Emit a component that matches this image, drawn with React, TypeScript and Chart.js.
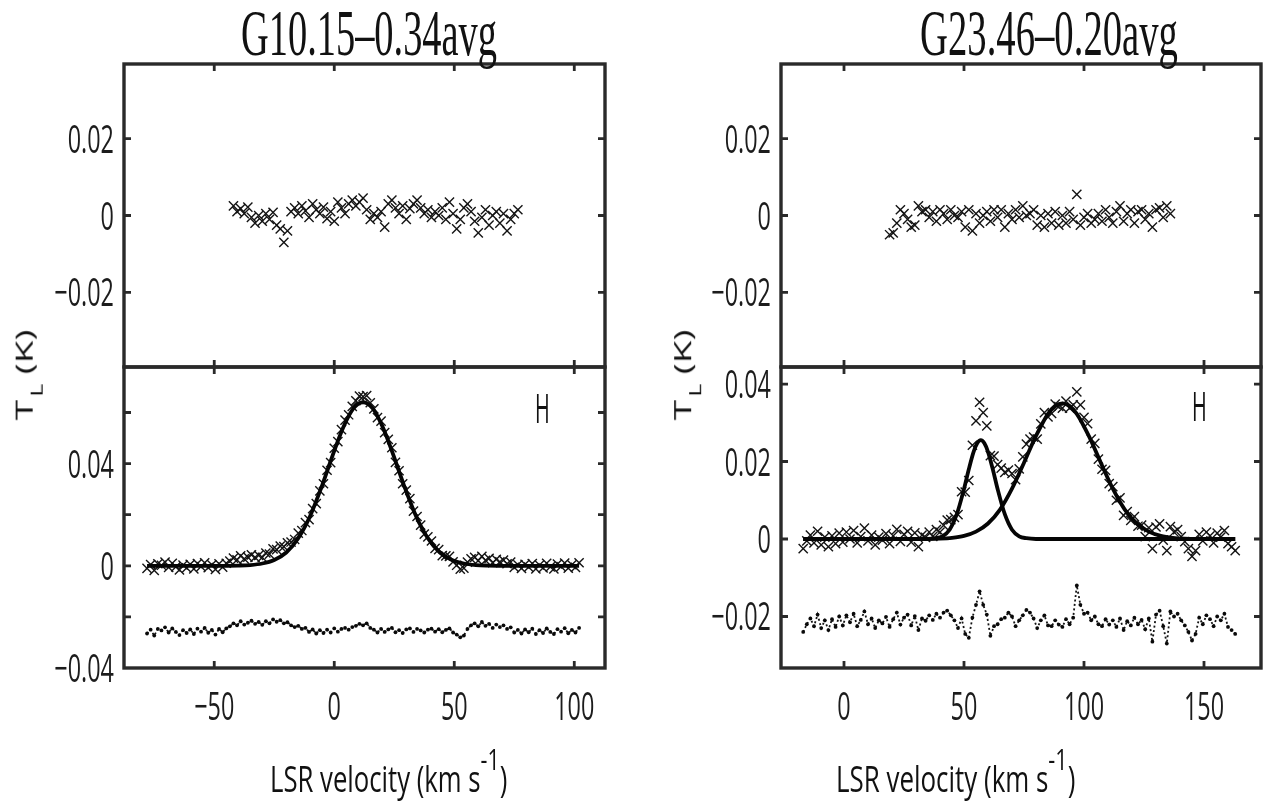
import React, { useEffect, useLayoutEffect, useRef } from 'react';
import { Chart, registerables } from 'chart.js';

Chart.register(...registerables);

const PAGE_W = 1267;
const PAGE_H = 803;

// ---------- velocity channels (km/s) ----------
const velL = [
  -78, -76.5, -75, -73.5, -72, -70.5, -69, -67.5, -66, -64.5,
  -63, -61.5, -60, -58.5, -57, -55.5, -54, -52.5, -51, -49.5,
  -48, -46.5, -45, -43.5, -42, -40.5, -39, -37.5, -36, -34.5,
  -33, -31.5, -30, -28.5, -27, -25.5, -24, -22.5, -21, -19.5,
  -18, -16.5, -15, -13.5, -12, -10.5, -9, -7.5, -6, -4.5,
  -3, -1.5, 0, 1.5, 3, 4.5, 6, 7.5, 9, 10.5,
  12, 13.5, 15, 16.5, 18, 19.5, 21, 22.5, 24, 25.5,
  27, 28.5, 30, 31.5, 33, 34.5, 36, 37.5, 39, 40.5,
  42, 43.5, 45, 46.5, 48, 49.5, 51, 52.5, 54, 55.5,
  57, 58.5, 60, 61.5, 63, 64.5, 66, 67.5, 69, 70.5,
  72, 73.5, 75, 76.5, 78, 79.5, 81, 82.5, 84, 85.5,
  87, 88.5, 90, 91.5, 93, 94.5, 96, 97.5, 99, 100.5,
  102,
];

const velR = [
  -17, -15.5, -14, -12.5, -11, -9.5, -8, -6.5, -5, -3.5,
  -2, -0.5, 1, 2.5, 4, 5.5, 7, 8.5, 10, 11.5,
  13, 14.5, 16, 17.5, 19, 20.5, 22, 23.5, 25, 26.5,
  28, 29.5, 31, 32.5, 34, 35.5, 37, 38.5, 40, 41.5,
  43, 44.5, 46, 47.5, 49, 50.5, 52, 53.5, 55, 56.5,
  58, 59.5, 61, 62.5, 64, 65.5, 67, 68.5, 70, 71.5,
  73, 74.5, 76, 77.5, 79, 80.5, 82, 83.5, 85, 86.5,
  88, 89.5, 91, 92.5, 94, 95.5, 97, 98.5, 100, 101.5,
  103, 104.5, 106, 107.5, 109, 110.5, 112, 113.5, 115, 116.5,
  118, 119.5, 121, 122.5, 124, 125.5, 127, 128.5, 130, 131.5,
  133, 134.5, 136, 137.5, 139, 140.5, 142, 143.5, 145, 146.5,
  148, 149.5, 151, 152.5, 154, 155.5, 157, 158.5, 160, 161.5,
  163,
];

// ---------- G10.15-0.34avg ----------
// upper panel: channels velL[24..103]
const topLeftValues = [
  0.0025, 0.0010, 0.0018, 0.0005, 0.0022, -0.0005, -0.0020, 0, -0.0015, 0.0005,
  -0.0010, 0.0008, -0.0025, -0.0035, -0.0070, -0.0040, 0.0010, 0.0020, 0.0005, 0.0025,
  0.0012, -0.0005, 0.0030, 0.0015, 0.0005, 0.0022, -0.0008, 0.0010, -0.0015, 0.0035,
  0.0020, 0.0005, 0.0030, 0.0040, 0.0025, 0.0035, 0.0045, 0.0015, -0.0010, 0.0005,
  -0.0005, 0.0010, -0.0030, 0.0030, 0.0040, 0.0020, 0.0005, 0.0025, -0.0010, 0.0018,
  0.0030, 0.0040, 0.0020, 0.0005, 0.0015, -0.0005, 0.0010, 0, 0.0020, -0.0010,
  0.0035, 0.0005, -0.0035, -0.0010, 0.0020, 0.0030, 0.0010, -0.0015, -0.0045, -0.0005,
  0.0015, -0.0025, 0, 0.0010, -0.0020, 0.0005, -0.0040, -0.0010, 0.0005, 0.0015,
];

const botLeftValues = [
  -0.0010, 0.0005, -0.0018, 0.0008, 0.0002, 0.0014, -0.0006, 0.0010, -0.0004, -0.0016,
  0.0003, -0.0008, 0.0006, -0.0012, 0.0009, -0.0003, 0.0012, -0.0007, 0.0004, -0.0014,
  0.0008, -0.0005, 0.0010, 0.0018, 0.0030, 0.0023, 0.0039, 0.0027, 0.0034, 0.0043,
  0.0033, 0.0041, 0.0033, 0.0050, 0.0046, 0.0066, 0.0063, 0.0077, 0.0075, 0.0090,
  0.0093, 0.0103, 0.0128, 0.0138, 0.0169, 0.0181, 0.0224, 0.0243, 0.0293, 0.0321,
  0.0374, 0.0404, 0.0460, 0.0486, 0.0533, 0.0570, 0.0591, 0.0624, 0.0646, 0.0664,
  0.0662, 0.0666, 0.0638, 0.0614, 0.0580, 0.0566, 0.0521, 0.0495, 0.0462, 0.0405,
  0.0372, 0.0321, 0.0296, 0.0263, 0.0214, 0.0193, 0.0159, 0.0124, 0.0113, 0.0097,
  0.0068, 0.0063, 0.0040, 0.0039, 0.0037, 0.0015, 0.0002, -0.0013, -0.0009, 0.0014,
  0.0027, 0.0033, 0.0020, 0.0037, 0.0021, 0.0029, 0.0012, 0.0025, 0.0015, 0.0022,
  0.0008, 0.0014, -0.0006, 0.0004, -0.0010, 0.0006, -0.0005, 0.0009, -0.0012, 0.0003,
  -0.0008, 0.0010, -0.0004, -0.0012, 0.0007, -0.0003, 0.0011, -0.0009, 0.0004, -0.0006,
  0.0012,
];

const botLeftResidual = [
  -0.0265, -0.0250, -0.0273, -0.0247, -0.0253, -0.0241, -0.0261, -0.0245, -0.0259, -0.0271,
  -0.0252, -0.0263, -0.0249, -0.0267, -0.0246, -0.0258, -0.0243, -0.0262, -0.0251, -0.0269,
  -0.0247, -0.0260, -0.0245, -0.0237, -0.0225, -0.0233, -0.0217, -0.0230, -0.0223, -0.0215,
  -0.0227, -0.0220, -0.0231, -0.0217, -0.0225, -0.0210, -0.0219, -0.0213, -0.0225, -0.0221,
  -0.0233, -0.0240, -0.0235, -0.0247, -0.0243, -0.0259, -0.0249, -0.0265, -0.0252, -0.0263,
  -0.0250, -0.0261, -0.0245, -0.0258, -0.0247, -0.0243, -0.0250, -0.0240, -0.0235, -0.0227,
  -0.0233, -0.0225, -0.0243, -0.0250, -0.0261, -0.0247, -0.0259, -0.0249, -0.0243, -0.0260,
  -0.0252, -0.0263, -0.0249, -0.0245, -0.0259, -0.0247, -0.0253, -0.0261, -0.0250, -0.0246,
  -0.0258, -0.0248, -0.0260, -0.0251, -0.0245, -0.0261, -0.0269, -0.0280, -0.0273, -0.0247,
  -0.0233, -0.0225, -0.0237, -0.0220, -0.0235, -0.0227, -0.0243, -0.0230, -0.0240, -0.0233,
  -0.0247, -0.0241, -0.0261, -0.0251, -0.0265, -0.0249, -0.0260, -0.0246, -0.0267, -0.0252,
  -0.0263, -0.0245, -0.0259, -0.0267, -0.0248, -0.0258, -0.0244, -0.0264, -0.0251, -0.0261,
  -0.0243,
];

const fitLeftVel = [-78, -50, -40, -35, -30, -25, -20, -15, -10, -5, 0, 4, 8, 12, 16, 20, 24, 29, 34, 39, 44, 49, 54, 59, 64, 74, 102];
const fitLeftValues = [0, 0, 0.0001, 0.0003, 0.0009, 0.0023, 0.0052, 0.0108, 0.0196, 0.0316, 0.0450, 0.0547, 0.0616, 0.0640, 0.0616, 0.0547, 0.0450, 0.0316, 0.0196, 0.0108, 0.0052, 0.0023, 0.0009, 0.0003, 0.0001, 0, 0];

// ---------- G23.46-0.20avg ----------
// upper panel: channels velR[24..102]
const topRightValues = [
  -0.0050, -0.0045, -0.0020, 0.0015, 0.0005, -0.0010, -0.0030, -0.0025, 0.0025, 0.0010,
  0.0015, -0.0005, 0.0010, -0.0015, 0.0015, 0.0005, -0.0010, 0.0015, 0, -0.0005,
  0.0010, -0.0030, 0.0015, -0.0040, 0.0005, -0.0020, 0, 0.0010, -0.0015, 0.0015,
  -0.0005, 0.0015, -0.0030, 0.0005, -0.0010, 0.0015, -0.0005, 0.0025, 0, 0.0005,
  0.0015, -0.0025, 0, -0.0030, 0.0005, -0.0020, 0.0010, -0.0025, 0, -0.0020,
  0.0010, -0.0010, 0.0055, -0.0025, -0.0005, 0.0005, -0.0020, -0.0010, 0.0005, -0.0015,
  0.0015, -0.0005, -0.0020, 0.0010, 0.0025, -0.0015, 0.0005, 0.0015, -0.0020, 0.0010,
  0.0015, -0.0010, 0.0005, -0.0030, 0.0015, 0.0020, -0.0005, 0.0025, 0.0005,
];

const botRightValues = [
  -0.0025, -0.0005, 0.0010, -0.0010, 0.0020, -0.0015, 0.0005, -0.0020, 0.0008, -0.0012,
  0.0015, -0.0008, 0.0018, 0, 0.0022, -0.0010, 0.0006, 0.0028, -0.0005, 0.0010,
  -0.0015, 0.0005, -0.0003, 0.0014, -0.0012, 0.0008, 0.0025, -0.0006, 0.0012, 0.0020,
  -0.0008, 0.0016, -0.0020, 0.0010, 0.0004, 0.0018, 0.0007, 0.0024, 0.0018, 0.0035,
  0.0049, 0.0050, 0.0056, 0.0063, 0.0122, 0.0121, 0.0151, 0.0242, 0.0305, 0.0353,
  0.0326, 0.0292, 0.0215, 0.0214, 0.0192, 0.0183, 0.0172, 0.0178, 0.0169, 0.0153,
  0.0181, 0.0212, 0.0245, 0.0258, 0.0263, 0.0258, 0.0297, 0.0326, 0.0315, 0.0324,
  0.0348, 0.0342, 0.0338, 0.0356, 0.0338, 0.0346, 0.0380, 0.0346, 0.0314, 0.0298,
  0.0258, 0.0247, 0.0206, 0.0180, 0.0177, 0.0143, 0.0135, 0.0100, 0.0106, 0.0061,
  0.0071, 0.0048, 0.0058, 0.0033, 0.0036, 0.0006, 0.0029, -0.0025, 0.0031, 0.0039,
  -0.0003, -0.0030, 0.0032, 0.0018, 0.0024, 0.0006, -0.0007, -0.0025, -0.0045, -0.0030,
  0.0012, -0.0005, 0.0018, 0.0008, -0.0010, 0.0015, 0.0005, 0.0022, -0.0012, -0.0020,
  -0.0030,
];

const botRightResidual = [
  -0.0240, -0.0220, -0.0205, -0.0225, -0.0195, -0.0230, -0.0210, -0.0235, -0.0207, -0.0227,
  -0.0200, -0.0223, -0.0197, -0.0215, -0.0193, -0.0225, -0.0209, -0.0187, -0.0220, -0.0205,
  -0.0230, -0.0210, -0.0218, -0.0201, -0.0227, -0.0207, -0.0190, -0.0221, -0.0203, -0.0195,
  -0.0223, -0.0199, -0.0235, -0.0205, -0.0211, -0.0197, -0.0209, -0.0193, -0.0203, -0.0190,
  -0.0185, -0.0197, -0.0210, -0.0230, -0.0205, -0.0245, -0.0255, -0.0203, -0.0170, -0.0135,
  -0.0170, -0.0195, -0.0250, -0.0225, -0.0220, -0.0207, -0.0203, -0.0190, -0.0200, -0.0225,
  -0.0210, -0.0197, -0.0183, -0.0190, -0.0205, -0.0230, -0.0210, -0.0197, -0.0223, -0.0225,
  -0.0210, -0.0221, -0.0227, -0.0207, -0.0220, -0.0203, -0.0120, -0.0170, -0.0193, -0.0190,
  -0.0210, -0.0200, -0.0220, -0.0225, -0.0207, -0.0221, -0.0210, -0.0227, -0.0205, -0.0235,
  -0.0212, -0.0223, -0.0203, -0.0220, -0.0209, -0.0233, -0.0205, -0.0265, -0.0195, -0.0185,
  -0.0225, -0.0270, -0.0187, -0.0200, -0.0193, -0.0210, -0.0223, -0.0240, -0.0262, -0.0245,
  -0.0203, -0.0220, -0.0197, -0.0207, -0.0225, -0.0200, -0.0210, -0.0193, -0.0227, -0.0235,
  -0.0245,
];

const fitNarrowVel = [-17, 35, 38, 41, 44, 47, 50, 52, 54, 55.5, 57, 58.5, 60, 62, 64, 67, 70, 73, 76, 80, 163];
const fitNarrowValues = [0, 0, 0.0002, 0.0007, 0.0024, 0.0064, 0.0129, 0.0180, 0.0225, 0.0247, 0.0255, 0.0247, 0.0225, 0.0180, 0.0129, 0.0064, 0.0024, 0.0007, 0.0002, 0, 0];

const fitWideVel = [-17, 30, 40, 45, 50, 55, 60, 65, 70, 75, 80, 85, 88, 91, 94, 97, 102, 107, 112, 117, 122, 127, 132, 137, 142, 152, 163];
const fitWideValues = [0, 0, 0.0001, 0.0003, 0.0008, 0.0019, 0.0040, 0.0076, 0.0130, 0.0197, 0.0266, 0.0323, 0.0343, 0.0350, 0.0343, 0.0323, 0.0266, 0.0197, 0.0130, 0.0076, 0.0040, 0.0019, 0.0008, 0.0003, 0.0001, 0, 0];

// ---------- ticks ----------
const xTicksLeft = [-50, 0, 50, 100];
const xTicksRight = [0, 50, 100, 150];
const yTicksTop = [-0.02, 0, 0.02];
const yLabelsTop = [-0.02, 0, 0.02];
const yTicksBotLeft = [-0.02, 0, 0.02, 0.04, 0.06];
const yLabelsBotLeft = [-0.04, 0, 0.04];
const yTicksBotRight = [-0.02, 0, 0.02, 0.04];
const yLabelsBotRight = [-0.02, 0, 0.02, 0.04];

const titleLeft = 'G10.15\u20130.34avg';
const titleRight = 'G23.46\u20130.20avg';

// ---------- helpers ----------
const pts = (xs: number[], ys: number[]) => ys.map((y, i) => ({ x: xs[i], y }));
const MINUS = '\u2212';
const fmtY = (v: number) => (v === 0 ? '0' : (v < 0 ? MINUS : '') + Math.abs(v).toFixed(2));
const fmtX = (v: number) => (v < 0 ? MINUS + Math.abs(v) : String(v));

const INK = '#141414';
const FRAME = '#2a2a2a';

const crosses = (xs: number[], ys: number[]) => ({
  type: 'scatter',
  data: pts(xs, ys),
  pointStyle: 'crossRot',
  pointRadius: 6.5,
  pointBorderWidth: 1.4,
  borderColor: INK,
  backgroundColor: INK,
  pointBorderColor: INK,
  showLine: false,
});

const fitLine = (xs: number[], ys: number[]) => ({
  type: 'line',
  data: pts(xs, ys),
  borderColor: '#050505',
  borderWidth: 3.8,
  pointRadius: 0,
  tension: 0.4,
  cubicInterpolationMode: 'monotone',
  fill: false,
});

const residualLine = (xs: number[], ys: number[]) => ({
  type: 'line',
  data: pts(xs, ys),
  borderColor: INK,
  borderWidth: 1.8,
  borderDash: [2, 2.5],
  pointRadius: 1.9,
  pointBorderWidth: 0,
  pointBackgroundColor: '#0a0a0a',
  tension: 0,
  fill: false,
});

type Panel = {
  key: string;
  box: { l: number; t: number; r: number; b: number };
  x: [number, number];
  y: [number, number];
  xTicks: number[];
  yTicks: number[];
  yLabels: number[];
  xLabels: boolean;
  datasets: any[];
};

const LEFT_BOX = { l: 124, r: 605 };
const RIGHT_BOX = { l: 781, r: 1261 };
const TOP_Y = { t: 64, b: 367 };
const BOT_Y = { t: 367, b: 668 };

const panels: Panel[] = [
  {
    key: 'tl',
    box: { ...LEFT_BOX, ...TOP_Y },
    x: [-87.6, 112.8],
    y: [-0.0394, 0.0394],
    xTicks: xTicksLeft,
    yTicks: yTicksTop,
    yLabels: yLabelsTop,
    xLabels: false,
    datasets: [crosses(velL.slice(24, 104), topLeftValues)],
  },
  {
    key: 'bl',
    box: { ...LEFT_BOX, ...BOT_Y },
    x: [-87.6, 112.8],
    y: [-0.04, 0.0778],
    xTicks: xTicksLeft,
    yTicks: yTicksBotLeft,
    yLabels: yLabelsBotLeft,
    xLabels: true,
    datasets: [
      fitLine(fitLeftVel, fitLeftValues),
      crosses(velL, botLeftValues),
      residualLine(velL, botLeftResidual),
    ],
  },
  {
    key: 'tr',
    box: { ...RIGHT_BOX, ...TOP_Y },
    x: [-26.25, 173.75],
    y: [-0.0394, 0.0394],
    xTicks: xTicksRight,
    yTicks: yTicksTop,
    yLabels: yLabelsTop,
    xLabels: false,
    datasets: [crosses(velR.slice(24, 103), topRightValues)],
  },
  {
    key: 'br',
    box: { ...RIGHT_BOX, ...BOT_Y },
    x: [-26.25, 173.75],
    y: [-0.0333, 0.0444],
    xTicks: xTicksRight,
    yTicks: yTicksBotRight,
    yLabels: yLabelsBotRight,
    xLabels: true,
    datasets: [
      fitLine(fitNarrowVel, fitNarrowValues),
      fitLine(fitWideVel, fitWideValues),
      crosses(velR, botRightValues),
      residualLine(velR, botRightResidual),
    ],
  },
];

const TICK_LEN = 7;
const LABEL_SCALE = 0.6;

function makeFramePlugin(p: Panel) {
  return {
    id: 'frame_' + p.key,
    afterDatasetsDraw(chart: any) {
      const { ctx, chartArea: a } = chart;
      const xs = chart.scales.x;
      const ys = chart.scales.y;
      ctx.save();
      ctx.strokeStyle = FRAME;
      ctx.lineWidth = 2.8;
      ctx.beginPath();
      for (const v of p.xTicks) {
        const px = xs.getPixelForValue(v);
        ctx.moveTo(px, a.top);
        ctx.lineTo(px, a.top + TICK_LEN);
        ctx.moveTo(px, a.bottom);
        ctx.lineTo(px, a.bottom - TICK_LEN);
      }
      for (const v of p.yTicks) {
        const py = ys.getPixelForValue(v);
        ctx.moveTo(a.left, py);
        ctx.lineTo(a.left + TICK_LEN, py);
        ctx.moveTo(a.right, py);
        ctx.lineTo(a.right - TICK_LEN, py);
      }
      ctx.stroke();
      ctx.lineWidth = 3.4;
      ctx.strokeRect(a.left, a.top, a.right - a.left, a.bottom - a.top);

      ctx.fillStyle = '#1c1c1c';
      ctx.font = '39px "Open Sans"';
      ctx.textBaseline = 'alphabetic';
      for (const v of p.yLabels) {
        const py = ys.getPixelForValue(v);
        ctx.save();
        ctx.translate(a.left - 10, py + 14);
        ctx.scale(LABEL_SCALE, 1);
        ctx.textAlign = 'right';
        ctx.fillText(fmtY(v), 0, 0);
        ctx.restore();
      }
      if (p.xLabels) {
        for (const v of p.xTicks) {
          const px = xs.getPixelForValue(v);
          ctx.save();
          ctx.translate(px, a.bottom + 52);
          ctx.scale(LABEL_SCALE, 1);
          ctx.textAlign = 'center';
          ctx.fillText(fmtX(v), 0, 0);
          ctx.restore();
        }
      }
      ctx.restore();
    },
  };
}

function PanelChart({ p }: { p: Panel }) {
  const ref = useRef<HTMLCanvasElement>(null);
  useEffect(() => {
    if (!ref.current) return;
    const chart = new Chart(ref.current, {
      type: 'scatter',
      data: { datasets: p.datasets as any },
      options: {
        responsive: false,
        maintainAspectRatio: false,
        devicePixelRatio: 1,
        animation: false,
        events: [],
        layout: {
          autoPadding: false,
          padding: { left: p.box.l, top: p.box.t, right: PAGE_W - p.box.r, bottom: PAGE_H - p.box.b },
        },
        plugins: { legend: { display: false }, tooltip: { enabled: false }, title: { display: false } },
        scales: {
          x: { type: 'linear', display: false, min: p.x[0], max: p.x[1] },
          y: { type: 'linear', display: false, min: p.y[0], max: p.y[1] },
        },
      } as any,
      plugins: [makeFramePlugin(p)],
    });
    return () => chart.destroy();
  }, [p]);
  return (
    <canvas
      ref={ref}
      width={PAGE_W}
      height={PAGE_H}
      style={{ position: 'absolute', left: 0, top: 0, width: PAGE_W, height: PAGE_H }}
    />
  );
}

function FitText(props: {
  left: number;
  baseline: number;
  width: number;
  family: string;
  size: number;
  ascent: number;
  children: React.ReactNode;
}) {
  const ref = useRef<HTMLDivElement>(null);
  useLayoutEffect(() => {
    const el = ref.current;
    if (!el) return;
    const w = el.offsetWidth;
    if (w > 0) el.style.transform = `scaleX(${props.width / w})`;
  });
  return (
    <div
      ref={ref}
      style={{
        position: 'absolute',
        left: props.left,
        top: props.baseline - props.ascent * props.size,
        fontFamily: props.family,
        fontSize: props.size,
        lineHeight: 1,
        whiteSpace: 'nowrap',
        transformOrigin: '0 0',
        color: '#111',
      }}
    >
      {props.children}
    </div>
  );
}

const SERIF = '"Liberation Serif", "Times New Roman", serif';
const SANS = '"Open Sans", sans-serif';
const SERIF_ASC = 0.8375;
const SANS_ASC = 0.888;

function AxisLabel({ left, width }: { left: number; width: number }) {
  return (
    <FitText left={left} baseline={793} width={width} family={SANS} size={36} ascent={SANS_ASC}>
      LSR velocity (km s
      <span style={{ fontSize: 30, position: 'relative', top: -22 }}>-1</span>)
    </FitText>
  );
}

function YTitle({ cx, cy }: { cx: number; cy: number }) {
  return (
    <div
      style={{
        position: 'absolute',
        left: 0,
        top: 0,
        fontFamily: SANS,
        fontSize: 37,
        lineHeight: 1,
        whiteSpace: 'nowrap',
        color: '#111',
        transformOrigin: '0 0',
        transform: `translate(${cx}px, ${cy}px) scaleX(0.66) rotate(-90deg) translate(-50%, -50%)`,
      }}
    >
      T<span style={{ fontSize: 25, position: 'relative', top: 15, marginLeft: 3 }}>L</span>
      {'\u00a0(K)'}
    </div>
  );
}

export default function App() {
  return (
    <div
      style={{
        position: 'fixed',
        left: 0,
        top: 0,
        width: PAGE_W,
        height: PAGE_H,
        background: '#fff',
        overflow: 'hidden',
      }}
    >
      {panels.map((p) => (
        <PanelChart key={p.key} p={p} />
      ))}
      <FitText left={241} baseline={55} width={256} family={SERIF} size={66} ascent={SERIF_ASC}>
        {titleLeft}
      </FitText>
      <FitText left={920} baseline={55} width={258} family={SERIF} size={66} ascent={SERIF_ASC}>
        {titleRight}
      </FitText>
      <AxisLabel left={270} width={237} />
      <AxisLabel left={836} width={239} />
      <YTitle cx={23.5} cy={375} />
      <YTitle cx={682} cy={375} />
      <FitText left={535} baseline={424} width={15} family={SANS} size={40} ascent={SANS_ASC}>
        H
      </FitText>
      <FitText left={1192} baseline={422} width={15} family={SANS} size={40} ascent={SANS_ASC}>
        H
      </FitText>
    </div>
  );
}
